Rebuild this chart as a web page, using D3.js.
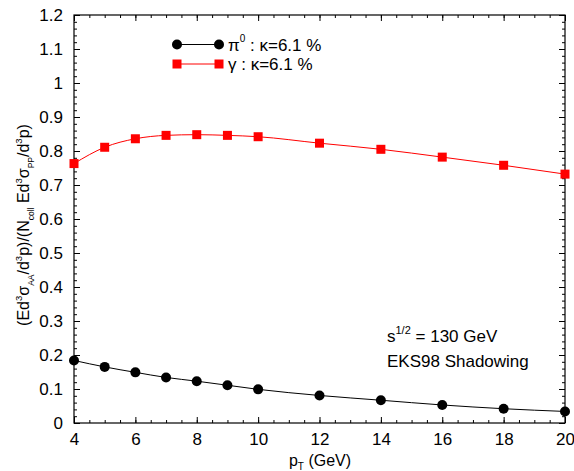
<!DOCTYPE html>
<html><head><meta charset="utf-8">
<script src="https://cdn.jsdelivr.net/npm/d3@7"></script>
<style>body{margin:0;background:#fff}text{font-family:"Liberation Sans",Arial,sans-serif}</style>
</head><body>
<svg id="c" width="574" height="471"></svg>
<script>
const ptValues = [4,5,6,7,8,9,10,12,14,16,18,20];
const pi0Values = [0.184,0.165,0.149,0.134,0.123,0.111,0.099,0.081,0.067,0.053,0.042,0.034];
const gammaValues = [0.763,0.811,0.836,0.846,0.848,0.846,0.842,0.823,0.805,0.782,0.758,0.732];
const xTicks = [4,6,8,10,12,14,16,18,20];
const yTicks = [0,0.1,0.2,0.3,0.4,0.5,0.6,0.7,0.8,0.9,1,1.1,1.2];

const svg = d3.select("#c");
const L=74,R=565,T=15,B=423;
const x = d3.scaleLinear().domain([4,20]).range([L,R]);
const y = d3.scaleLinear().domain([0,1.2]).range([B,T]);

svg.append("rect").attr("x",L).attr("y",T).attr("width",R-L).attr("height",B-T)
  .attr("fill","none").attr("stroke","#000").attr("stroke-width",1.2);

const fmtY = d => d===0?"0":(d===1?"1":d3.format(".1f")(d));
const xMinor = d3.range(4,20.01,0.5);
const yMinor = d3.range(0,1.2001,0.02);

const gB = svg.append("g").attr("transform",`translate(0,${B})`)
  .call(d3.axisBottom(x).tickValues(xTicks).tickSize(-6).tickPadding(10).tickFormat(d3.format("d")));
gB.select(".domain").remove();
svg.append("g").attr("transform",`translate(0,${B})`)
  .call(d3.axisBottom(x).tickValues(xMinor).tickSize(-3).tickFormat("")).select(".domain").remove();
svg.append("g").attr("transform",`translate(0,${T})`)
  .call(d3.axisTop(x).tickValues(xTicks).tickSize(-6).tickFormat("")).select(".domain").remove();
svg.append("g").attr("transform",`translate(0,${T})`)
  .call(d3.axisTop(x).tickValues(xMinor).tickSize(-3).tickFormat("")).select(".domain").remove();
const gL = svg.append("g").attr("transform",`translate(${L},0)`)
  .call(d3.axisLeft(y).tickValues(yTicks).tickSize(-6).tickPadding(11).tickFormat(fmtY));
gL.select(".domain").remove();
svg.append("g").attr("transform",`translate(${L},0)`)
  .call(d3.axisLeft(y).tickValues(yMinor).tickSize(-3).tickFormat("")).select(".domain").remove();
svg.append("g").attr("transform",`translate(${R},0)`)
  .call(d3.axisRight(y).tickValues(yTicks).tickSize(-6).tickFormat("")).select(".domain").remove();
svg.append("g").attr("transform",`translate(${R},0)`)
  .call(d3.axisRight(y).tickValues(yMinor).tickSize(-3).tickFormat("")).select(".domain").remove();

svg.selectAll(".tick line").attr("stroke","#000").attr("stroke-width",1);
svg.selectAll(".tick text").attr("font-size",17).attr("fill","#000")
  .attr("font-family","Liberation Sans, Arial, sans-serif");

const pi0 = ptValues.map((p,i)=>[p,pi0Values[i]]);
const gam = ptValues.map((p,i)=>[p,gammaValues[i]]);
const line = d3.line().x(d=>x(d[0])).y(d=>y(d[1])).curve(d3.curveMonotoneX);

svg.append("path").attr("d",line(gam)).attr("fill","none").attr("stroke","#ff0000").attr("stroke-width",1);
svg.append("path").attr("d",line(pi0)).attr("fill","none").attr("stroke","#000").attr("stroke-width",1);

svg.selectAll(".sq").data(gam).enter().append("rect")
  .attr("x",d=>x(d[0])-4.5).attr("y",d=>y(d[1])-4.5).attr("width",9).attr("height",9).attr("fill","#ff0000");
svg.selectAll(".ci").data(pi0).enter().append("circle")
  .attr("cx",d=>x(d[0])).attr("cy",d=>y(d[1])).attr("r",5).attr("fill","#000");

const lg = svg.append("g");
lg.append("line").attr("x1",177).attr("x2",219).attr("y1",44.5).attr("y2",44.5).attr("stroke","#000");
lg.append("circle").attr("cx",177).attr("cy",44.5).attr("r",5).attr("fill","#000");
lg.append("circle").attr("cx",219).attr("cy",44.5).attr("r",5).attr("fill","#000");
lg.append("line").attr("x1",177).attr("x2",219).attr("y1",64).attr("y2",64).attr("stroke","#ff0000");
lg.append("rect").attr("x",172.5).attr("y",59.5).attr("width",9).attr("height",9).attr("fill","#ff0000");
lg.append("rect").attr("x",214.5).attr("y",59.5).attr("width",9).attr("height",9).attr("fill","#ff0000");
const t1 = lg.append("text").attr("x",228).attr("y",50.5).attr("font-size",17);
t1.append("tspan").text("π");
t1.append("tspan").attr("font-size",10).attr("dy",-9).text("0");
t1.append("tspan").attr("dy",9).text(" : κ=6.1 %");
lg.append("text").attr("x",228).attr("y",70).attr("font-size",17).text("γ : κ=6.1 %");

const a1 = svg.append("text").attr("x",387).attr("y",342).attr("font-size",17);
a1.append("tspan").text("s");
a1.append("tspan").attr("font-size",11).attr("dy",-8).text("1/2");
a1.append("tspan").attr("dy",8).text(" = 130 GeV");
svg.append("text").attr("x",387).attr("y",367).attr("font-size",17).text("EKS98 Shadowing");

const xl = svg.append("text").attr("x",320).attr("y",466).attr("text-anchor","middle").attr("font-size",16);
xl.append("tspan").text("p");
xl.append("tspan").attr("font-size",10).attr("dy",4).text("T");
xl.append("tspan").attr("dy",-4).text(" (GeV)");

const yl = svg.append("text").attr("transform","translate(29,225) rotate(-90)").attr("text-anchor","middle").attr("font-size",16);
const parts = [["(Ed",0,16],["3",-7,9.5],["σ",7,16],["AA",5,8.5],["/d",-5,16],["3",-7,9.5],["p)/(N",7,16],["coll",5,8.5],[" Ed",-5,16],["3",-7,9.5],["σ",7,16],["PP",5,8.5],["/d",-5,16],["3",-7,9.5],["p)",7,16]];
parts.forEach(p=>yl.append("tspan").attr("dy",p[1]).attr("font-size",p[2]).text(p[0]));
</script>
</body></html>
